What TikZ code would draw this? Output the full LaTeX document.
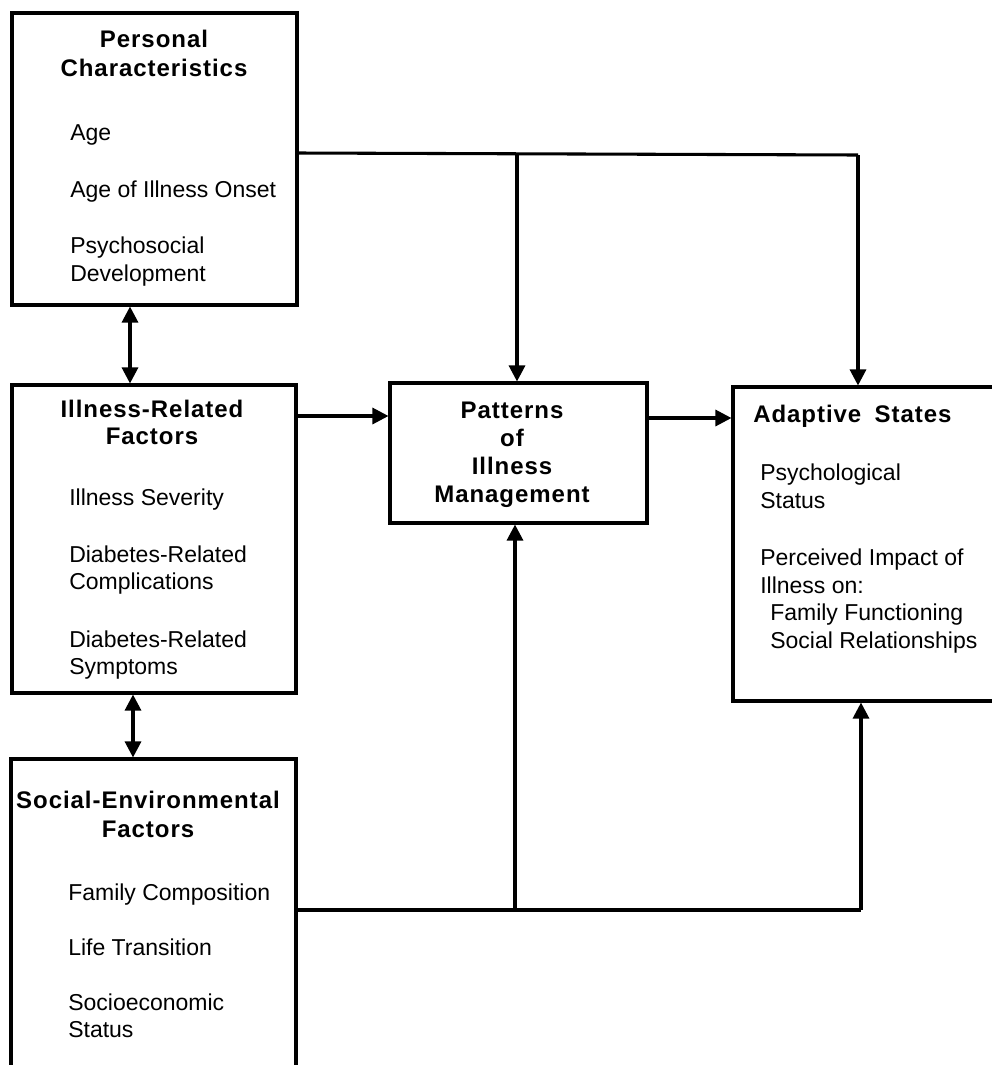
\documentclass[tikz,border=0pt]{standalone}
\usepackage{fontspec}
\setmainfont{Liberation Sans}
\newfontfamily\titlefont{Liberation Sans}[LetterSpace=4]
\usetikzlibrary{arrows.meta}
\begin{document}
\begin{tikzpicture}[x=0.75pt,y=-0.75pt,
  box/.style={draw=black,line width=2.3pt,inner sep=0,rectangle},
  txt/.style={anchor=base west,inner sep=0,font=\fontsize{17.25}{21}\selectfont},
  ttl/.style={anchor=base,inner sep=0,font=\titlefont\bfseries\fontsize{18}{21}\selectfont},
  ttlw/.style={anchor=base west,inner sep=0,font=\titlefont\bfseries\fontsize{18}{21}\selectfont},
  con/.style={line width=2.3pt},
  arr/.style={con,-{Triangle[length=12pt,width=12pt]}},
  darr/.style={con,{Triangle[length=12pt,width=12pt]}-{Triangle[length=12pt,width=12pt]}}]
\useasboundingbox (0,0) rectangle (992,1065);
% boxes
\node[box,minimum width=213.75pt,minimum height=219pt] (pc) at (154.5,159) {};
\node[box,minimum width=213pt,minimum height=231pt] (irf) at (154,539) {};
\node[box,minimum width=213.75pt,minimum height=240.75pt] (sef) at (153.5,919.5) {};
\node[box,minimum width=192.75pt,minimum height=105pt] (pim) at (518.5,453) {};
\node[box,minimum width=200.25pt,minimum height=235.5pt] (as) at (866.5,544) {};
% Personal Characteristics
\node[ttl] (pc1) at (154,47) {Personal};
\node[ttl] (pc2) at (154,76) {Characteristics};
\node[txt] (pc3) at (70,140) {Age};
\node[txt] (pc4) at (70,197) {Age of Illness Onset};
\node[txt] (pc5) at (70,253) {Psychosocial};
\node[txt] (pc6) at (70,281) {Development};
% Illness-Related Factors
\node[ttl] (irf1) at (152,417) {Illness-Related};
\node[ttl] (irf2) at (152,444) {Factors};
\node[txt] (irf3) at (69,505) {Illness Severity};
\node[txt] (irf4) at (69,562) {Diabetes-Related};
\node[txt] (irf5) at (69,589) {Complications};
\node[txt] (irf6) at (69,647) {Diabetes-Related};
\node[txt] (irf7) at (69,674) {Symptoms};
% Social-Environmental Factors
\node[ttl] (sef1) at (148,808) {Social-Environmental};
\node[ttl] (sef2) at (148,837) {Factors};
\node[txt] (sef3) at (68,900) {Family Composition};
\node[txt] (sef4) at (68,955) {Life Transition};
\node[txt] (sef5) at (68,1010) {Socioeconomic};
\node[txt] (sef6) at (68,1037) {Status};
% Patterns of Illness Management
\node[ttl] (pim1) at (512,418) {Patterns};
\node[ttl] (pim2) at (512,446) {of};
\node[ttl] (pim3) at (512,474) {Illness};
\node[ttl] (pim4) at (512,502) {Management};
% Adaptive States
\node[ttlw] (as1) at (753,422) {Adaptive\hspace{10pt}States};
\node[txt] (as2) at (760,480) {Psychological};
\node[txt] (as3) at (760,508) {Status};
\node[txt] (as4) at (760,565) {Perceived Impact of};
\node[txt] (as5) at (760,593) {Illness on:};
\node[txt] (as6) at (770,620) {Family Functioning};
\node[txt] (as7) at (770,648) {Social Relationships};
% connectors
\coordinate (j1) at (517,153);
\coordinate (j2) at (858,155);
\draw[con] (pc.east |- j1) -- (j2);
\draw[arr] (j1) -- (j1 |- pim.north);
\draw[arr] (j2) -- (j2 |- as.north);
\draw[arr] (irf.east |- 0,416) -- (pim.west |- 0,416);
\draw[arr] (pim.east |- 0,418) -- (as.west |- 0,418);
\coordinate (k1) at (515,910);
\coordinate (k2) at (861,910);
\draw[con] (sef.east |- k1) -- (k2);
\draw[arr] (k1) -- (k1 |- pim.south);
\draw[arr] (k2) -- (k2 |- as.south);
\draw[darr] (pc.south -| 130,0) -- (irf.north -| 130,0);
\draw[darr] (irf.south -| 133,0) -- (sef.north -| 133,0);
\end{tikzpicture}
\end{document}
